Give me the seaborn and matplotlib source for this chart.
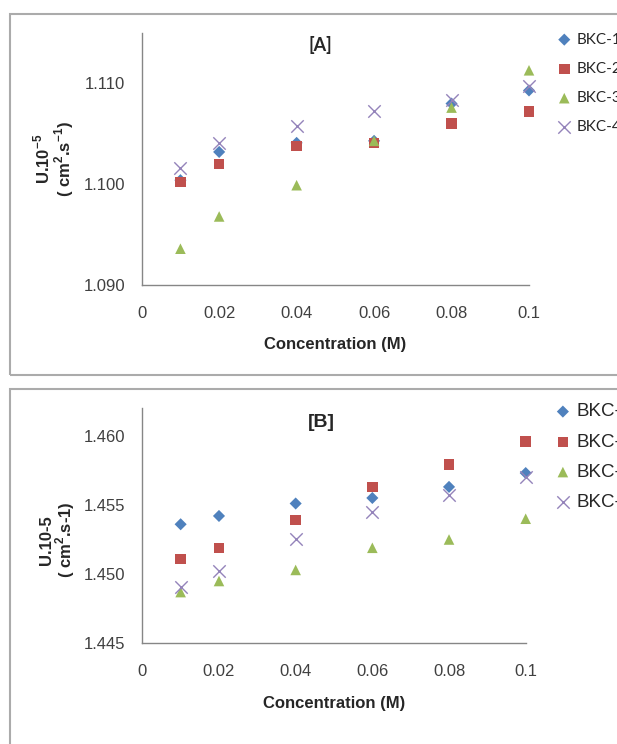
import matplotlib
matplotlib.use("Agg")
import matplotlib.pyplot as plt
import seaborn as sns
from matplotlib.patches import Rectangle

# concentration (M)
conc = [0.01, 0.02, 0.04, 0.06, 0.08, 0.1]

# panel [A]
a_bkc1 = [1.1004, 1.1032, 1.1041, 1.1043, 1.1080, 1.1093]
a_bkc2 = [1.1002, 1.1020, 1.1038, 1.1041, 1.1060, 1.1072]
a_bkc3 = [1.0936, 1.0968, 1.0999, 1.1043, 1.1076, 1.1113]
a_bkc4 = [1.1016, 1.1041, 1.1058, 1.1073, 1.1084, 1.1097]

# panel [B]
b_bkc1 = [1.4536, 1.4542, 1.4551, 1.4555, 1.4563, 1.4573]
b_bkc2 = [1.4511, 1.4519, 1.4539, 1.4563, 1.4579, 1.4596]
b_bkc3 = [1.4487, 1.4495, 1.4503, 1.4519, 1.4525, 1.4540]
b_bkc4 = [1.4491, 1.4502, 1.4525, 1.4545, 1.4557, 1.4570]

series_names = ["BKC-1", "BKC-2", "BKC-3", "BKC-4"]
x_ticks = [0, 0.02, 0.04, 0.06, 0.08, 0.1]
x_ticklabels = ["0", "0.02", "0.04", "0.06", "0.08", "0.1"]
a_yticks = [1.090, 1.100, 1.110]
b_yticks = [1.445, 1.450, 1.455, 1.460]

colors = ["#4F81BD", "#C0504D", "#9BBB59", "#9483BA"]
markers = ["D", "s", "^", "x"]
sizes = [38, 58, 58, 80]

sns.set_theme(style="white")
plt.rcParams["font.family"] = ["Liberation Sans", "DejaVu Sans"]
plt.rcParams["mathtext.fontset"] = "custom"
plt.rcParams["mathtext.rm"] = "Liberation Sans"
plt.rcParams["mathtext.bf"] = "Liberation Sans:bold"

W, H = 617, 744
fig = plt.figure(figsize=(W / 100, H / 100), dpi=100)

# panel frames
fig.patches.append(Rectangle((10 / W, (H - 375) / H), 700 / W, 361 / H,
                             transform=fig.transFigure, fill=False,
                             edgecolor="#ABABAB", linewidth=1.5))
fig.patches.append(Rectangle((10 / W, (H - 800) / H), 700 / W, 411 / H,
                             transform=fig.transFigure, fill=False,
                             edgecolor="#ABABAB", linewidth=1.5))


def px_axes(left, top, right, bottom):
    return fig.add_axes([left / W, (H - bottom) / H, (right - left) / W, (bottom - top) / H])


def style_axes(ax, yticks, ylim, fmt):
    ax.set_xlim(0, 0.1)
    ax.set_ylim(*ylim)
    ax.set_xticks(x_ticks)
    ax.set_xticklabels(x_ticklabels)
    ax.set_yticks(yticks)
    ax.set_yticklabels([fmt.format(v) for v in yticks])
    for s in ["top", "right"]:
        ax.spines[s].set_visible(False)
    for s in ["left", "bottom"]:
        ax.spines[s].set_color("#868686")
        ax.spines[s].set_linewidth(1.0)
    ax.tick_params(axis="both", which="major", direction="out", length=5, width=1,
                   color="#868686", labelcolor="#404040", labelsize=12)
    ax.tick_params(axis="x", pad=10)
    ax.tick_params(axis="y", pad=7)
    ax.set_xlabel("Concentration (M)", fontsize=12, fontweight="bold", labelpad=12)
    ax.grid(False)


def draw_series(ax, data):
    for name, vals, c, m, s in zip(series_names, data, colors, markers, sizes):
        if m == "x":
            sns.scatterplot(x=conc, y=vals, ax=ax, marker=m, color=c, s=s,
                            linewidth=1.0, label=name, zorder=3, clip_on=False)
        else:
            sns.scatterplot(x=conc, y=vals, ax=ax, marker=m, color=c, s=s,
                            edgecolor="none", linewidth=0, label=name, zorder=3,
                            clip_on=False)


# ---- panel A ----
ax_a = px_axes(141.7, 33, 529, 285)
draw_series(ax_a, [a_bkc1, a_bkc2, a_bkc3, a_bkc4])
style_axes(ax_a, a_yticks, (1.090, 1.115), "{:.3f}")
ax_a.set_ylabel("U.10$^{\\mathbf{-5}}$\n( cm$^{\\mathbf{2}}$.s$^{\\mathbf{-1}}$)",
                fontsize=12, fontweight="bold", linespacing=1.0)
ax_a.yaxis.set_label_coords(-0.17, 0.5)
ax_a.set_title("[A]", fontsize=13, fontweight="bold", family=["Lato", "DejaVu Sans"],
               x=(320 - 141.7) / 387.3, y=1.0, pad=-13)
ax_a.legend(loc="upper left", bbox_to_anchor=(549 / W, (H - 25) / H),
            bbox_transform=fig.transFigure, frameon=False, borderpad=0,
            handlelength=1.0, handletextpad=0.3, labelspacing=1.0,
            prop={"family": ["Lato", "DejaVu Sans"], "size": 11})

# ---- panel B ----
ax_b = px_axes(142.3, 408, 525.7, 643.3)
draw_series(ax_b, [b_bkc1, b_bkc2, b_bkc3, b_bkc4])
style_axes(ax_b, b_yticks, (1.445, 1.462), "{:.3f}")
ax_b.set_ylabel("U.10-5\n( cm$^{\\mathbf{2}}$.s-1)",
                fontsize=12, fontweight="bold", linespacing=1.0)
ax_b.yaxis.set_label_coords(-0.17, 0.44)
ax_b.set_title("[B]", fontsize=14, fontweight="bold",
               x=(321 - 142.3) / 383.4, y=1.0, pad=-14)
ax_b.legend(loc="upper left", bbox_to_anchor=(546 / W, (H - 394) / H),
            bbox_transform=fig.transFigure, frameon=False, borderpad=0,
            handlelength=0.8, handletextpad=0.35, labelspacing=0.7,
            prop={"size": 13.5})

fig.savefig("out.png", dpi=100)
